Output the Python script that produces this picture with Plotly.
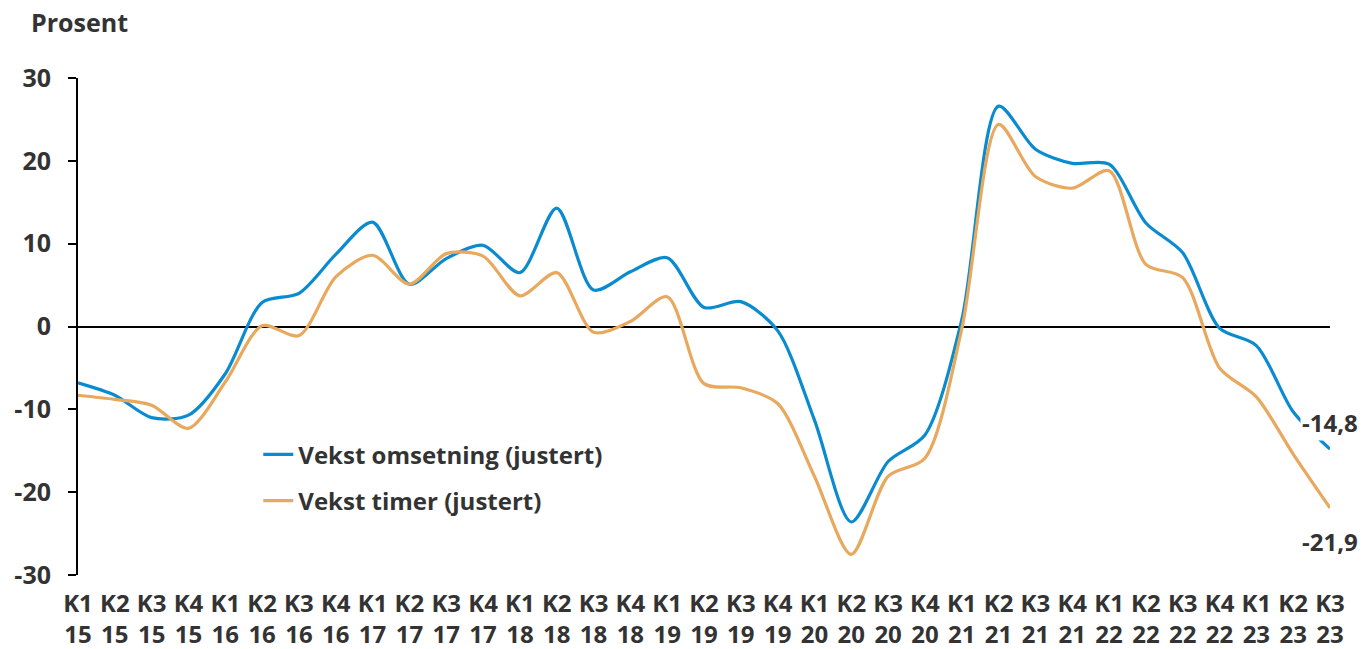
import plotly.graph_objects as go

QUARTERS = [f"K{q}" for y in range(15, 24) for q in range(1, 5)][:35]
YEARS = [str(y) for y in range(15, 24) for q in range(1, 5)][:35]
TICK_LABELS = [f"{k}<br>{y}" for k, y in zip(QUARTERS, YEARS)]

Y_TICKS = [-30, -20, -10, 0, 10, 20, 30]

OMSETNING = [-6.8, -8.3, -11.0, -10.7, -5.7, 2.9, 4.0, 8.7, 12.6, 5.1,
             8.2, 9.8, 6.5, 14.3, 4.4, 6.6, 8.3, 2.3, 3.0, -0.5,
             -11.3, -23.6, -16.3, -13.1, 0.8, 26.6, 21.4, 19.7, 19.6, 12.5,
             8.9, -0.2, -2.3, -10.3, -14.8]
TIMER = [-8.3, -8.8, -9.5, -12.3, -6.7, 0.1, -1.1, 6.0, 8.6, 5.1,
         8.8, 8.5, 3.7, 6.5, -0.7, 0.6, 3.6, -6.9, -7.4, -9.3,
         -18.1, -27.5, -18.1, -15.9, -0.3, 24.4, 18.1, 16.7, 18.8, 7.5,
         5.9, -5.0, -8.5, -15.4, -21.9]

BLUE = "#0A8BD0"
ORANGE = "#E8A85E"
TEXT = "#333333"
FONT = "Open Sans"

x = list(range(len(QUARTERS)))

fig = go.Figure()
fig.add_trace(go.Scatter(
    x=x, y=OMSETNING, name="Vekst omsetning (justert)", legendgroup="a",
    mode="lines", line=dict(color=BLUE, width=3.2, shape="spline", smoothing=0.8),
))
fig.add_trace(go.Scatter(
    x=x, y=TIMER, name="Vekst timer (justert)", legendgroup="b",
    mode="lines", line=dict(color=ORANGE, width=3.2, shape="spline", smoothing=0.8),
))

# end labels
fig.add_annotation(x=x[-1], y=OMSETNING[-1], text=f"{OMSETNING[-1]:.1f}".replace(".", ","),
                   showarrow=False, yshift=27, bgcolor="white",
                   font=dict(family=FONT, size=24, color=TEXT, weight=700))
fig.add_annotation(x=x[-1], y=TIMER[-1], text=f"{TIMER[-1]:.1f}".replace(".", ","),
                   showarrow=False, yshift=-34,
                   font=dict(family=FONT, size=24, color=TEXT, weight=700))

fig.add_annotation(xref="paper", yref="paper", x=-0.039, y=1.113, xanchor="left",
                   yanchor="middle", text="Prosent", showarrow=False,
                   font=dict(family=FONT, size=25, color=TEXT, weight=700))

fig.update_layout(
    width=1365, height=649,
    margin=dict(l=78, r=35, t=78, b=74),
    paper_bgcolor="white", plot_bgcolor="white",
    font=dict(family=FONT, size=24, color=TEXT, weight=700),
    showlegend=True,
    legend=dict(x=0.144, y=0.287, xanchor="left", yanchor="top",
                bgcolor="rgba(0,0,0,0)", tracegroupgap=12,
                font=dict(family=FONT, size=24, color=TEXT, weight=700)),
)
fig.update_xaxes(
    range=[0, len(x) - 1], tickvals=x, ticktext=TICK_LABELS,
    showgrid=False, zeroline=False, showline=False, ticks="",
    ticklabelstandoff=12, automargin=False,
    tickfont=dict(family=FONT, size=24, color=TEXT, weight=700),
)
fig.update_yaxes(
    range=[-30, 30], tickvals=Y_TICKS, ticktext=[str(v) for v in Y_TICKS],
    showgrid=False, zeroline=True, zerolinecolor="black", zerolinewidth=1.5,
    showline=True, linecolor="black", linewidth=2,
    ticks="outside", ticklen=8, tickwidth=2, tickcolor="black",
    ticklabelstandoff=12, automargin=False,
    tickfont=dict(family=FONT, size=25, color=TEXT, weight=700),
)

fig.write_html("out.html", config={"displayModeBar": False},
               post_script="document.body.style.margin='0';")
